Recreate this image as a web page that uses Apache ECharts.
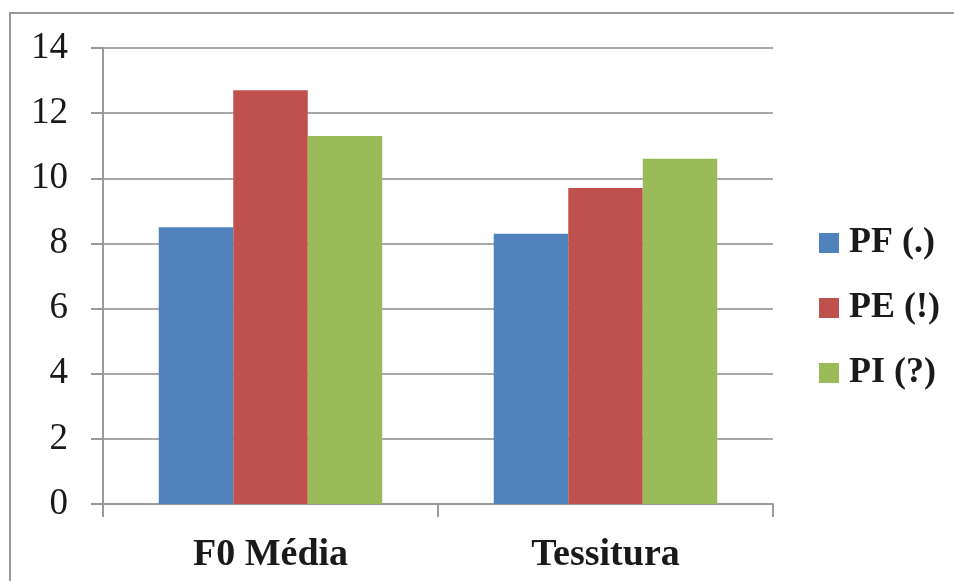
<!DOCTYPE html>
<html>
<head>
<meta charset="utf-8">
<script src="https://cdn.jsdelivr.net/npm/echarts@6/dist/echarts.min.js"></script>
<style>
  html, body { margin: 0; padding: 0; background: #fff; }
  #chart { width: 954px; height: 581px; }
</style>
</head>
<body>
<div id="chart"></div>
<script>
var categories = ['F0 Média', 'Tessitura'];
var seriesNames = ['PF (.)', 'PE (!)', 'PI (?)'];
var pfValues = [8.5, 8.3];
var peValues = [12.7, 9.7];
var piValues = [11.3, 10.6];
var colors = ['#4F81BD', '#C0504D', '#9BBB59'];

var serif = '"Liberation Serif", "DejaVu Serif", serif';

var option = {
    animation: false,
    color: colors,
    graphic: [
        {
            type: 'polyline',
            shape: { points: [[10, 600], [10, 13], [960, 13]] },
            style: { stroke: '#999', lineWidth: 2, fill: null }
        }
    ],
    grid: {
        left: 103,
        right: 181,
        top: 48,
        bottom: 77
    },
    legend: {
        orient: 'vertical',
        left: 814,
        top: 220,
        itemWidth: 20,
        itemHeight: 20,
        itemGap: 29,
        icon: 'rect',
        data: seriesNames,
        textStyle: {
            fontFamily: serif,
            fontWeight: 'bold',
            fontSize: 36,
            color: '#1a1a1a',
            padding: [0, 0, 0, 5]
        }
    },
    xAxis: {
        type: 'category',
        data: categories,
        axisLine: { lineStyle: { color: '#9a9a9a', width: 2 } },
        axisTick: { show: true, length: 13, lineStyle: { color: '#9a9a9a', width: 2 } },
        axisLabel: {
            margin: 32,
            fontFamily: serif,
            fontWeight: 'bold',
            fontSize: 38,
            color: '#1a1a1a'
        }
    },
    yAxis: {
        type: 'value',
        min: 0,
        max: 14,
        interval: 2,
        axisLine: { show: true, lineStyle: { color: '#9a9a9a', width: 2 } },
        axisTick: { show: true, length: 12, lineStyle: { color: '#9a9a9a', width: 2 } },
        splitLine: { lineStyle: { color: '#a8a8a8', width: 2 } },
        axisLabel: {
            margin: 35,
            fontFamily: serif,
            fontSize: 37,
            color: '#1a1a1a'
        }
    },
    series: [
        { name: seriesNames[0], type: 'bar', data: pfValues, barWidth: 74.5, barGap: '0%' },
        { name: seriesNames[1], type: 'bar', data: peValues, barWidth: 74.5, barGap: '0%' },
        { name: seriesNames[2], type: 'bar', data: piValues, barWidth: 74.5, barGap: '0%' }
    ]
};

var myChart = echarts.init(document.getElementById('chart'));
myChart.setOption(option);
</script>
</body>
</html>
